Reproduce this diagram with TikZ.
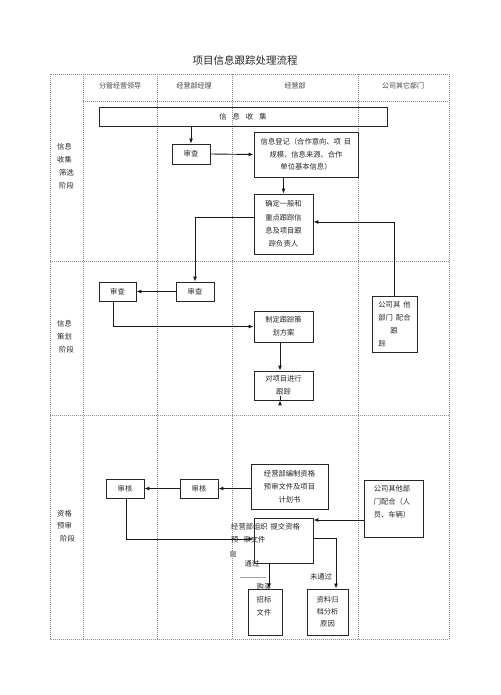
\documentclass[tikz,border=0pt]{standalone}
\usepackage{fontspec}
\newfontfamily\cjk{Noto Sans CJK SC}
\usetikzlibrary{arrows.meta,calc}
\begin{document}
\begin{tikzpicture}[x=1pt,y=-1pt,
  grid/.style={draw=black!45, line width=0.5pt, dash pattern=on 1pt off 1pt},
  box/.style={draw=black!85, line width=0.8pt, inner sep=0pt, align=center, text=black!85,
    font=\cjk\fontsize{7.3}{13}\selectfont},
  txt/.style={inner sep=0pt, align=center, text=black!85, font=\cjk\fontsize{7.3}{13}\selectfont},
  hdr/.style={inner sep=0pt, text=black!75, font=\cjk\fontsize{7}{9}\selectfont},
  arr/.style={-{Latex[length=5pt,width=4pt]}, line width=0.9pt, draw=black!90},
  ln/.style={line width=0.9pt, draw=black!90}]
\useasboundingbox (0,0) rectangle (500,695);
\fill[white] (0,0) rectangle (500,695);
% title
\node[inner sep=0pt, font=\cjk\fontsize{10.5}{12}\selectfont, text=black!85] (title) at (245,60) {项目信息跟踪处理流程};
% table grid
\draw[grid] (50,74) rectangle (449,639);
\draw[grid] (83,74) -- (83,639);
\draw[grid] (157,74) -- (157,639);
\draw[grid] (232,74) -- (232,639);
\draw[grid] (358,74) -- (358,639);
\draw[grid] (83,101) -- (449,101);
\draw[grid] (50,261) -- (449,261);
\draw[grid] (50,415) -- (449,415);
% headers
\node[hdr] (h1) at (120,86) {分管经营领导};
\node[hdr] (h2) at (194,86) {经营部经理};
\node[hdr] (h3) at (295,86) {经营部};
\node[hdr] (h4) at (403,86) {公司其它部门};
% stage labels
\node[txt, align=left, anchor=west] (s1) at (57,166) {信息\\收集\\\hspace{2pt}筛选\\\hspace{2pt}阶段};
\node[txt, align=left, anchor=west] (s2) at (57,336.5) {信息\\策划\\\hspace{2pt}阶段};
\node[txt, align=left, anchor=west, font=\cjk\fontsize{7.3}{12.5}\selectfont] (s3) at (57,526) {资格\\预审\\\hspace{3pt}阶段};
% stage 1
\node[box, minimum width=288pt, minimum height=19pt] (collect) at (243,116.5) {信\hspace{6pt}息\hspace{6pt}收\hspace{6pt}集};
\node[box, minimum width=38pt, minimum height=20pt] (sc1) at (191,154) {审查};
\node[box, minimum width=104pt, minimum height=45pt, font=\cjk\fontsize{7.3}{12.5}\selectfont] (reg) at (306,154.5) {信息登记（合作意向、项\hspace{3pt}目\\规模、信息来源、合作\\单位基本信息）};
\node[box, minimum width=59pt, minimum height=60pt, font=\cjk\fontsize{7.3}{13.3}\selectfont] (det) at (283.5,224) {确定一般和\\重点跟踪信\\息及项目跟\\踪负责人};
% stage 2
\node[box, minimum width=37pt, minimum height=19pt] (sc2l) at (117.5,291.5) {审查};
\node[box, minimum width=38pt, minimum height=19pt] (sc2r) at (195,291.5) {审查};
\node[box, minimum width=59pt, minimum height=31pt] (plan) at (283.5,326.5) {制定跟踪策\\划方案};
\node[box, minimum width=59pt, minimum height=29pt] (track) at (283.5,385.5) {对项目进行\\跟踪};
\node[box, minimum width=45pt, minimum height=56pt, align=left] (oth1) at (394.5,324) {公司其\hspace{3pt}他\\部门\hspace{3pt}配合\\\hspace{12pt}跟\\踪};
% stage 3
\node[box, minimum width=77pt, minimum height=45pt] (prep) at (289.5,486.5) {经营部编制资格\\预审文件及项目\\计划书};
\node[box, minimum width=38pt, minimum height=19pt] (ck2r) at (199,488.5) {审核};
\node[box, minimum width=38pt, minimum height=19pt] (ck2l) at (125,488.5) {审核};
\node[box, minimum width=59pt, minimum height=45pt] (org) at (283.5,540.5) {};
\node[txt, align=left, anchor=north west] (orgt) at (231,523) {经营部组织\hspace{3pt}提交资格\\预\hspace{5pt}审文件};
\node[box, minimum width=59pt, minimum height=57pt] (oth2) at (393.5,508.5) {};
\node[txt] (oth2t) at (392,502) {公司其他部\\门配合（人\\员、车辆）};
\node[box, minimum width=34pt, minimum height=46pt] (buy) at (265,612) {};
\node[txt] (buyt) at (264,600) {购买\\招标\\文件};
\node[box, minimum width=41pt, minimum height=46pt, font=\cjk\fontsize{7.3}{12}\selectfont] (arch) at (327.5,612) {资料归\\档分析\\原因};
% connectors stage 1
\draw[arr] (collect.south -| sc1.north) -- (sc1.north);
\draw[arr] (sc1.east) -- (reg.west);
\draw[arr] (reg.south -| det.north) -- (det.north);
\draw[arr] ($(det.west)+(0,-7)$) -| (sc2r.north);
\draw[arr] (oth1.north) |- ($(det.east)+(0,-2)$);
% stage 2
\draw[arr] (sc2r.west) -- (sc2l.east);
\draw[arr] ($(sc2l.south)+(-4.5,0)$) |- (plan.west);
\draw[arr] ($(plan.south)+(-3.5,0)$) -- ($(track.north)+(-3.5,0)$);
% stage 3
\draw[arr] ($(track.south)+(-3.5,0)$) -- ($(track.south)+(-3.5,0)$ |- prep.north);
\draw[arr] (prep.west |- ck2r.east) -- (ck2r.east);
\draw[arr] (ck2r.west) -- (ck2l.east);
\draw[arr] ($(ck2l.south)+(1,0)$) |- ($(org.west)+(0,-1.5)$);
\draw[arr] ($(oth2.west)+(0,11.5)$) -- ($(org.east)+(0,-20.5)$);
\draw[arr] ($(org.east)+(0,-2.5)$) -| ($(arch.north)+(8.5,0)$);
\draw[arr] ($(org.south)+(-14.5,0)$) -- ($(buy.north)+(4,0)$);
\node[txt] (pass) at (252,564) {通过};
\node[txt] (fail) at (321,577) {未通过};
\fill[black!35] (230,551) rectangle (236,557);
\draw[black!35, line width=0.4pt] (240,577) -- (266,577);
\end{tikzpicture}
\end{document}
